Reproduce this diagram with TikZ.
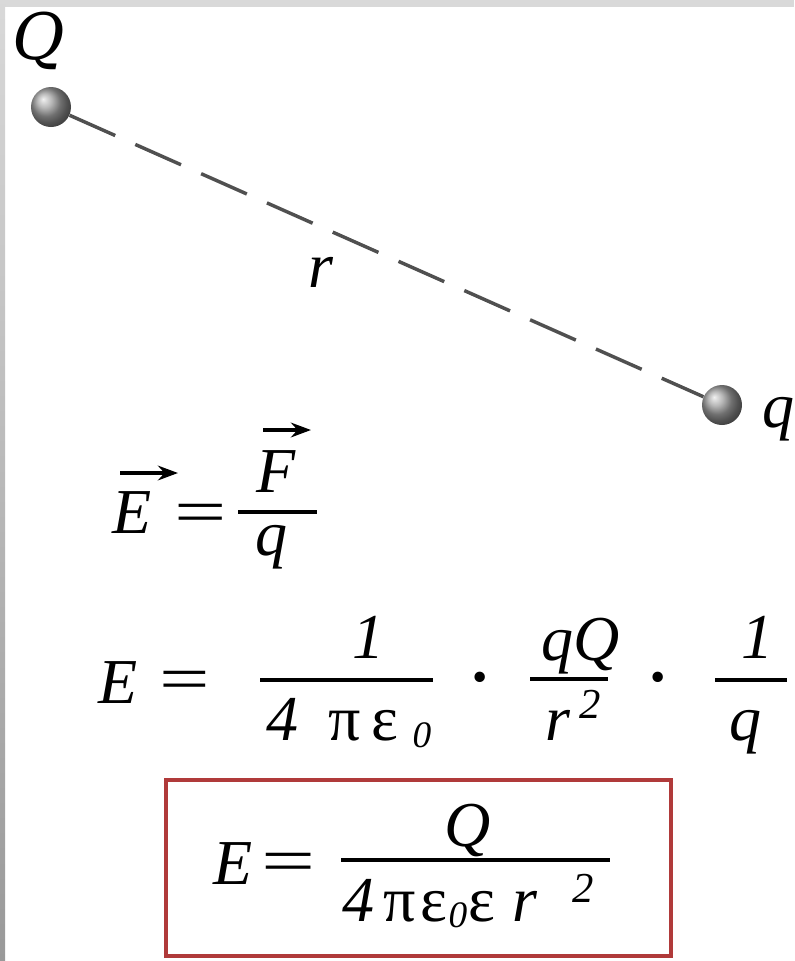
\documentclass[tikz,border=0pt]{standalone}
\usepackage{fontspec}
\setmainfont{Liberation Serif}
\newfontfamily\tnr{Liberation Serif}
\newfontfamily\dvs{DejaVu Serif}
\usetikzlibrary{arrows.meta,shadings}
\definecolor{boxred}{HTML}{B03A3A}
\definecolor{dashgray}{HTML}{505050}
\tikzset{
  it/.style={inner sep=0pt, anchor=base, font=\tnr\fontsize{48}{50}\selectfont\itshape},
  bigit/.style={inner sep=0pt, anchor=base, font=\dvs\fontsize{48}{50}\selectfont\itshape},
  lmit/.style={inner sep=0pt, anchor=base, font=\rmfamily\fontsize{48}{50}\selectfont\itshape},
  up/.style={inner sep=0pt, anchor=base, font=\tnr\fontsize{48}{50}\selectfont},
  subit/.style={inner sep=0pt, anchor=base, font=\tnr\fontsize{28}{30}\selectfont\itshape},
  supit/.style={inner sep=0pt, anchor=base, font=\tnr\fontsize{32}{34}\selectfont\itshape},
  fbar/.style={line width=2.3pt},
  vecarrow/.style={line width=2.6pt, -{Stealth[length=15pt,width=11pt]}},
  charge/.style={circle, minimum size=30pt, inner sep=0pt, shading=ball, ball color=gray!75},
  link/.style={line width=2.6pt, color=dashgray, dash pattern=on 37.5pt off 16.5pt},
  resultbox/.style={draw=boxred, line width=2.3pt}
}
\begin{document}
\begin{tikzpicture}[x=0.75pt,y=-0.75pt]
\useasboundingbox (0,0) rectangle (794,961);
\fill[white] (0,0) rectangle (794,961);
% grey frame strips
\fill[gray!30] (0,0) rectangle (794,7);
\shade[top color=gray!30, bottom color=black!40] (0,0) rectangle (5,961);

% charges and distance
\node[charge] (Qb) at (51,107) {};
\node[charge] (qb) at (722,405) {};
\draw[link] (Qb) -- (qb);
\node[bigit] (Qlab) at (39,59) {Q};
\node[it] (qlab) at (778,427) {q};
\node[lmit] (rlab) at (321,287) {r};

% E = F/q
\node[it] (E1) at (132,533) {E};
\coordinate (E1a) at (120,473);
\coordinate (E1b) at (178,473);
\draw[vecarrow] (E1a) -- (E1b);
\node[up] (eq1) at (201,533) {\scalebox{1.45}[1]{=}};
\coordinate (b1a) at (238,512);
\coordinate (b1b) at (317,512);
\draw[fbar] (b1a) -- (b1b);
\node[it] (F1) at (276,492) {F};
\coordinate (F1a) at (263,430);
\coordinate (F1b) at (311,430);
\draw[vecarrow] (F1a) -- (F1b);
\node[it] (q1) at (271,555) {q};

% E = 1/(4 pi eps0) . qQ/r^2 . 1/q
\node[it] (E2) at (118,703) {E};
\node[up] (eq2) at (185,700) {\scalebox{1.4}[1]{=}};
\coordinate (b2a) at (260,680);
\coordinate (b2b) at (433,680);
\draw[fbar] (b2a) -- (b2b);
\node[it] (one1) at (368,658) {1};
\node[it] (four1) at (282,740) {4};
\node[up] (pi1) at (345,740) {π};
\node[up] (eps1) at (385,740) {ε};
\node[subit] (zero1) at (422,747) {0};
\node[up, font=\tnr\fontsize{48}{50}\selectfont\bfseries] (dot1) at (480,698) {·};
\coordinate (b3a) at (530,679);
\coordinate (b3b) at (608,679);
\draw[fbar] (b3a) -- (b3b);
\node[it] (qQ) at (581,660) {qQ};
\node[it] (r2) at (558,740) {r};
\node[supit] (sq2) at (590,718) {2};
\node[up, font=\tnr\fontsize{48}{50}\selectfont\bfseries] (dot2) at (658,698) {·};
\coordinate (b4a) at (715,680);
\coordinate (b4b) at (787,680);
\draw[fbar] (b4a) -- (b4b);
\node[it] (one2) at (757,658) {1};
\node[it] (q2) at (745,740) {q};

% boxed result
\coordinate (boxa) at (166,780);
\coordinate (boxb) at (671,956);
\draw[resultbox] (boxa) rectangle (boxb);
\node[it] (E3) at (233,884) {E};
\node[up] (eq3) at (289,882) {\scalebox{1.5}[1]{=}};
\coordinate (b5a) at (341,860);
\coordinate (b5b) at (610,860);
\draw[fbar] (b5a) -- (b5b);
\node[it] (Q3) at (468,846) {Q};
\node[it] (four3) at (358,921) {4};
\node[up] (pi3) at (400,921) {π};
\node[up] (eps3) at (434,921) {ε};
\node[subit] (zero3) at (458,927) {0};
\node[up] (eps3b) at (482,921) {ε};
\node[it] (r3) at (525,921) {r};
\node[supit] (sq3) at (583,902) {2};
\end{tikzpicture}
\end{document}
